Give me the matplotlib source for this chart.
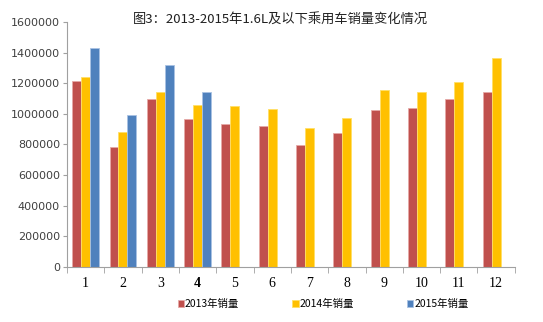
import numpy as np
import matplotlib.pyplot as plt
from matplotlib.ticker import FixedLocator

plt.rcParams['font.family'] = ['Noto Sans CJK SC', 'DejaVu Sans']

months = ['1', '2', '3', '4', '5', '6', '7', '8', '9', '10', '11', '12']
sales2013 = [1215000, 780000, 1095000, 965000, 935000, 920000, 795000, 875000, 1025000, 1040000, 1095000, 1145000]
sales2014 = [1240000, 880000, 1145000, 1055000, 1050000, 1030000, 905000, 975000, 1155000, 1140000, 1210000, 1365000]
sales2015 = [1430000, 995000, 1320000, 1140000]
labels = ['2013年销量', '2014年销量', '2015年销量']
colors = ['#C0504D', '#FFC000', '#4F81BD']
edges = ['#E6A9A7', '#FFE066', '#A9C2E3']

fig = plt.figure(figsize=(5.43, 3.22), dpi=100)
ax = fig.add_axes([0.1234, 0.171, 0.8246, 0.761])

x = np.arange(len(months))
w = 0.24
series = [sales2013, sales2014, sales2015]
for i, vals in enumerate(series):
    xs = x[:len(vals)] + (i - 1) * w
    ax.bar(xs, vals, width=w, color=colors[i], edgecolor=edges[i], linewidth=0.6, label=labels[i])

ax.set_xlim(-0.5, len(months) - 0.5)
ax.set_ylim(0, 1600000)
ax.set_yticks(np.arange(0, 1600001, 200000))
ax.set_yticklabels([str(v) for v in range(0, 1600001, 200000)], fontsize=8, color='#404040', family='DejaVu Sans')
ax.set_xticks(x)
ax.set_xticklabels(months, fontsize=10, family='Liberation Serif')
ax.get_xticklabels()[3].set_fontweight('bold')
ax.xaxis.set_minor_locator(FixedLocator(np.arange(-0.5, len(months), 1)))
ax.tick_params(axis='x', which='major', length=0, pad=7)
ax.tick_params(axis='x', which='minor', length=4, color='#A0A0A0')
ax.tick_params(axis='y', length=3, color='#A0A0A0', pad=2)

for s in ['top', 'right']:
    ax.spines[s].set_visible(False)
for s in ['left', 'bottom']:
    ax.spines[s].set_color('#A0A0A0')

fig.text(0.516, 0.94, '图3：2013-2015年1.6L及以下乘用车销量变化情况', fontsize=9.5,
         ha='center', va='center', color='#202020')

fig.legend(loc='lower center', bbox_to_anchor=(0.595, 0.01), ncol=3, frameon=False,
           fontsize=7.5, handlelength=0.6, handleheight=0.6, handletextpad=0.1, columnspacing=5.1)

fig.savefig('out.png', dpi=100)
